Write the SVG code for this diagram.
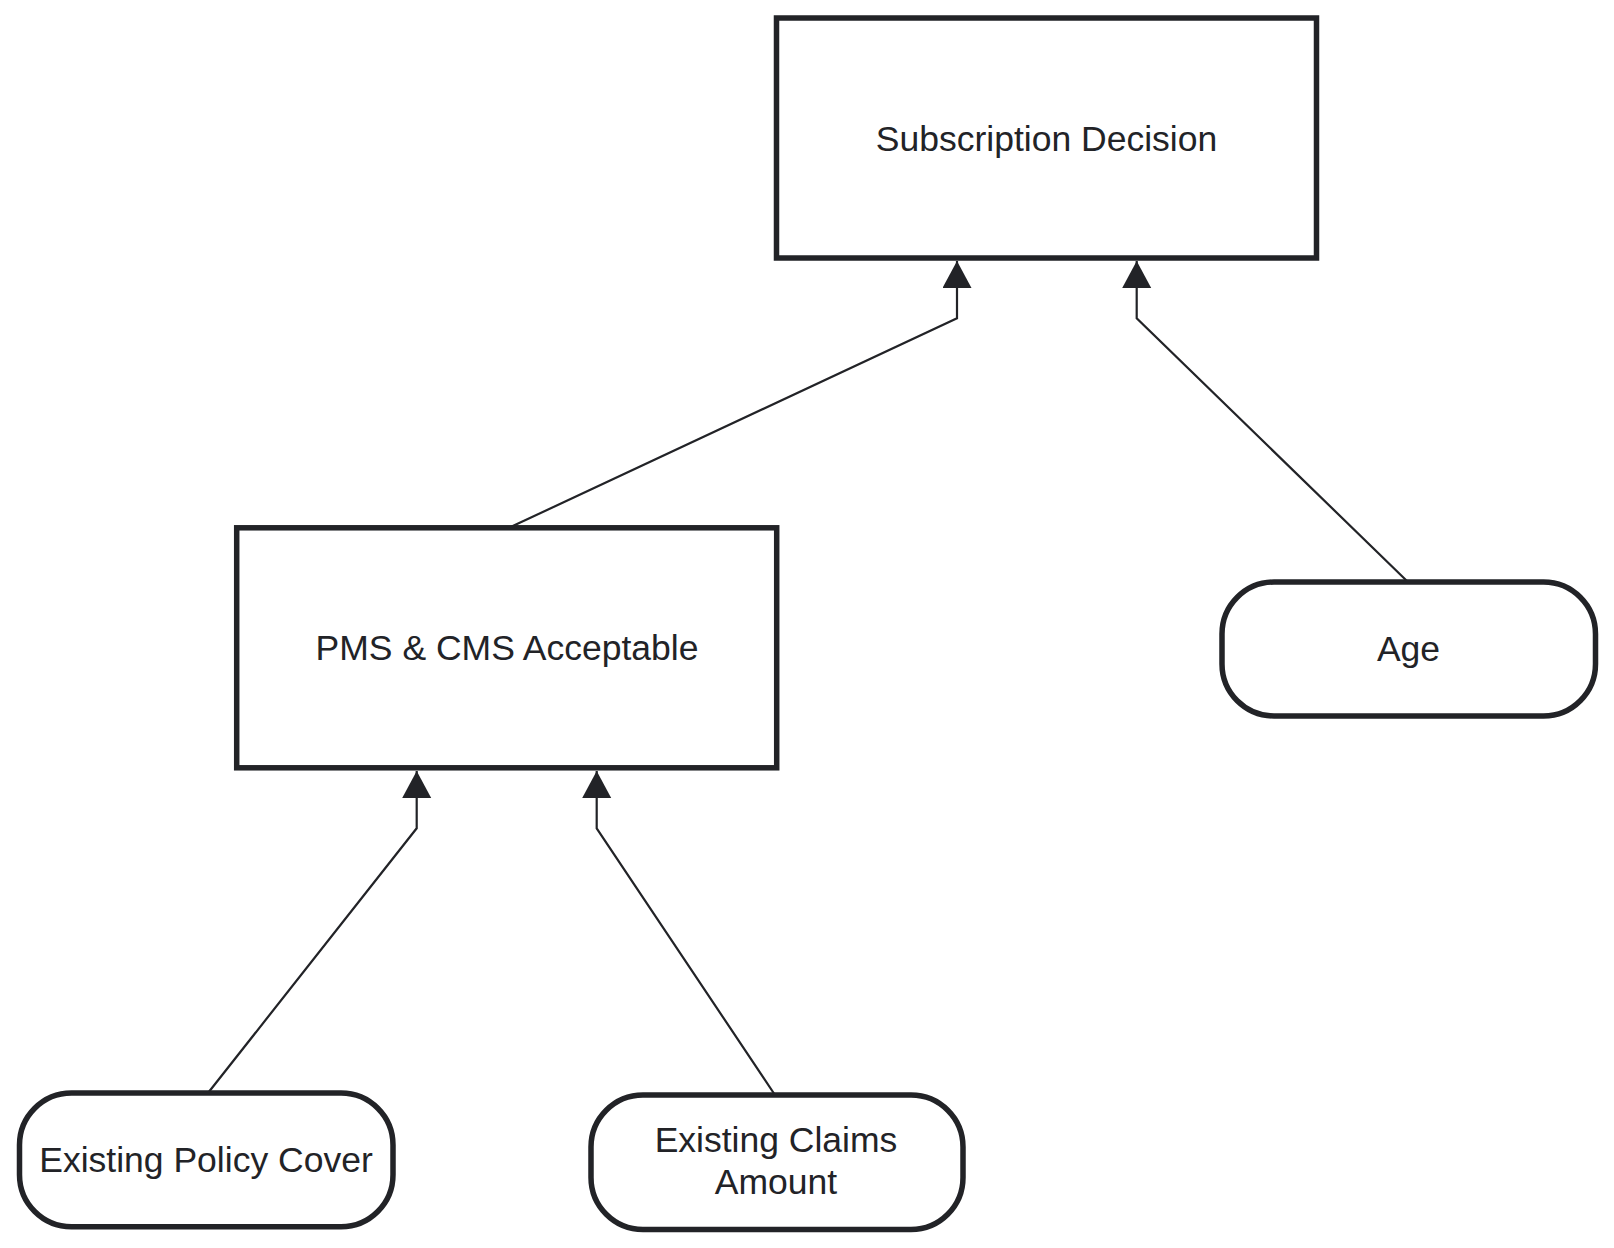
<svg xmlns="http://www.w3.org/2000/svg" width="1614" height="1248" viewBox="0 0 1614 1248">
<style>
.box{fill:#ffffff;stroke:#222327;stroke-width:5.5}
.lbl{font-family:'Liberation Sans',sans-serif;font-size:35.5px;fill:#222327;text-anchor:middle}
.edge{fill:none;stroke:#222327;stroke-width:2.2}
</style>
<defs>
<marker id="arr" markerUnits="userSpaceOnUse" markerWidth="28" markerHeight="30" refX="27" refY="14.5" orient="auto" viewBox="0 0 28 30">
<path d="M0,0 L27,14.5 L0,29 Z" fill="#222327"/>
</marker>
</defs>
<rect x="0" y="0" width="1614" height="1248" fill="#ffffff"/>
<g id="connectors">
<polyline class="edge" points="509,527.8 957,318.3 957,261" marker-end="url(#arr)"/>
<polyline class="edge" points="1408,582 1136.7,318.3 1136.7,261" marker-end="url(#arr)"/>
<polyline class="edge" points="208,1093 416.7,828.3 416.7,771" marker-end="url(#arr)"/>
<polyline class="edge" points="775,1095 596.7,828.3 596.7,771" marker-end="url(#arr)"/>
</g>
<g id="node-subscription-decision">
<rect class="box" x="776.5" y="18" width="540" height="240"/>
<text class="lbl" x="1046.5" y="150.5">Subscription Decision</text>
</g>
<g id="node-pms-cms">
<rect class="box" x="236.7" y="527.8" width="540" height="240"/>
<text class="lbl" x="507" y="660">PMS &amp; CMS Acceptable</text>
</g>
<g id="node-age">
<rect class="box" x="1222" y="582" width="373.5" height="134" rx="52" ry="52"/>
<text class="lbl" x="1408.5" y="661">Age</text>
</g>
<g id="node-existing-policy-cover">
<rect class="box" x="19.5" y="1093" width="373.5" height="133.7" rx="52" ry="52"/>
<text class="lbl" x="206" y="1171.5">Existing Policy Cover</text>
</g>
<g id="node-existing-claims-amount">
<rect class="box" x="591" y="1095" width="372" height="134.5" rx="52" ry="52"/>
<text class="lbl" x="776" y="1152"><tspan x="776">Existing Claims</tspan><tspan x="776" dy="42">Amount</tspan></text>
</g>
</svg>
